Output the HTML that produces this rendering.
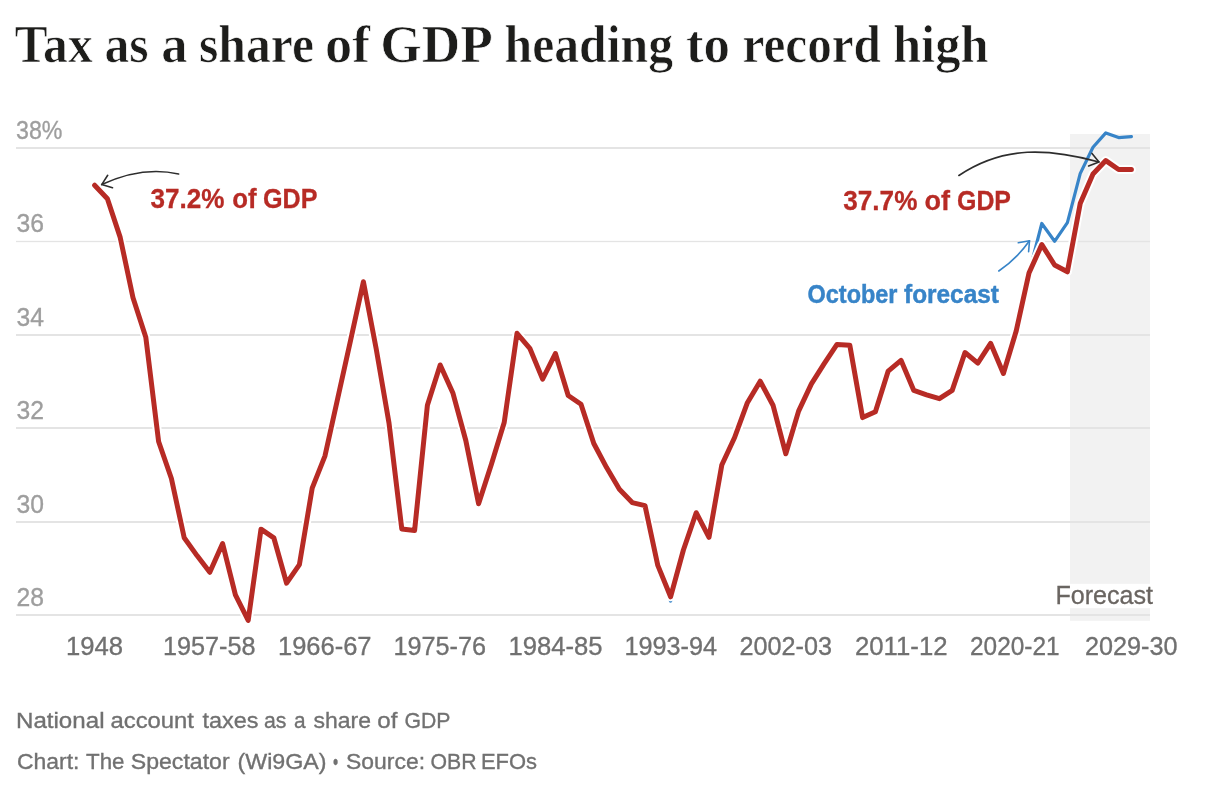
<!DOCTYPE html>
<html lang="en"><head><meta charset="utf-8"><title>Tax as a share of GDP heading to record high</title>
<style>
html,body{margin:0;padding:0;background:#fff;}
body{width:1216px;height:810px;overflow:hidden;}
svg{display:block;}
svg text{font-family:"Liberation Sans",sans-serif;}
svg text.serif{font-family:"Liberation Serif",serif;}
</style></head><body>
<svg width="1216" height="810" viewBox="0 0 1216 810" role="img" aria-label="Tax as a share of GDP heading to record high">
<rect width="1216" height="810" fill="#ffffff"/>
<g id="title">
<text y="62.3" font-size="52" font-weight="700" class="serif" stroke-linejoin="round" fill="#1d1d1b" stroke="#ffffff" stroke-width="0.70"><tspan x="14.57" textLength="78.22" lengthAdjust="spacingAndGlyphs">Tax</tspan> <tspan x="104.39" textLength="44.21" lengthAdjust="spacingAndGlyphs">as</tspan> <tspan x="161.30" textLength="26.34" lengthAdjust="spacingAndGlyphs">a</tspan> <tspan x="198.95" textLength="115.07" lengthAdjust="spacingAndGlyphs">share</tspan> <tspan x="324.91" textLength="45.27" lengthAdjust="spacingAndGlyphs">of</tspan> <tspan x="380.36" textLength="109.50" lengthAdjust="spacingAndGlyphs">GDP</tspan> <tspan x="504.50" textLength="168.51" lengthAdjust="spacingAndGlyphs">heading</tspan> <tspan x="685.98" textLength="44.12" lengthAdjust="spacingAndGlyphs">to</tspan> <tspan x="742.48" textLength="138.52" lengthAdjust="spacingAndGlyphs">record</tspan> <tspan x="892.99" textLength="95.54" lengthAdjust="spacingAndGlyphs">high</tspan></text>
</g>
<rect x="1070" y="134" width="80" height="486.8" fill="#f2f2f2"/>
<rect x="16" y="147" width="1134" height="2" fill="#e4e4e4"/>
<rect x="16" y="241" width="1134" height="1" fill="#e4e4e4"/>
<rect x="16" y="334" width="1134" height="2" fill="#e4e4e4"/>
<rect x="16" y="427" width="1134" height="2" fill="#e4e4e4"/>
<rect x="16" y="521" width="1134" height="2" fill="#e4e4e4"/>
<rect x="16" y="614" width="1134" height="2" fill="#e4e4e4"/>
<rect x="16" y="240.5" width="1134" height="2" fill="#e4e4e4" fill-opacity="0.25"/>
<g id="labels">
<text y="138.9" font-size="26" fill="#9e9e9e" stroke="#9e9e9e" stroke-width="0.35"><tspan x="16.01" textLength="46.48" lengthAdjust="spacingAndGlyphs">38%</tspan></text>
<text y="232.3" font-size="26" fill="#9e9e9e" stroke="#9e9e9e" stroke-width="0.35"><tspan x="16.52" textLength="27.48" lengthAdjust="spacingAndGlyphs">36</tspan></text>
<text y="325.7" font-size="26" fill="#9e9e9e" stroke="#9e9e9e" stroke-width="0.35"><tspan x="16.52" textLength="27.48" lengthAdjust="spacingAndGlyphs">34</tspan></text>
<text y="419.1" font-size="26" fill="#9e9e9e" stroke="#9e9e9e" stroke-width="0.35"><tspan x="16.52" textLength="27.48" lengthAdjust="spacingAndGlyphs">32</tspan></text>
<text y="512.5" font-size="26" fill="#9e9e9e" stroke="#9e9e9e" stroke-width="0.35"><tspan x="16.52" textLength="27.48" lengthAdjust="spacingAndGlyphs">30</tspan></text>
<text y="605.9" font-size="26" fill="#9e9e9e" stroke="#9e9e9e" stroke-width="0.35"><tspan x="16.52" textLength="27.48" lengthAdjust="spacingAndGlyphs">28</tspan></text>
<text y="655.0" font-size="26" fill="#707070" stroke="#707070" stroke-width="0.35"><tspan x="65.99" textLength="57.03" lengthAdjust="spacingAndGlyphs">1948</tspan></text>
<text y="655.0" font-size="26" fill="#707070" stroke="#707070" stroke-width="0.35"><tspan x="163.00" textLength="92.50" lengthAdjust="spacingAndGlyphs">1957-58</tspan></text>
<text y="655.0" font-size="26" fill="#707070" stroke="#707070" stroke-width="0.35"><tspan x="277.98" textLength="93.54" lengthAdjust="spacingAndGlyphs">1966-67</tspan></text>
<text y="655.0" font-size="26" fill="#707070" stroke="#707070" stroke-width="0.35"><tspan x="393.50" textLength="92.51" lengthAdjust="spacingAndGlyphs">1975-76</tspan></text>
<text y="655.0" font-size="26" fill="#707070" stroke="#707070" stroke-width="0.35"><tspan x="508.48" textLength="94.02" lengthAdjust="spacingAndGlyphs">1984-85</tspan></text>
<text y="655.0" font-size="26" fill="#707070" stroke="#707070" stroke-width="0.35"><tspan x="624.50" textLength="92.50" lengthAdjust="spacingAndGlyphs">1993-94</tspan></text>
<text y="655.0" font-size="26" fill="#707070" stroke="#707070" stroke-width="0.35"><tspan x="739.51" textLength="92.49" lengthAdjust="spacingAndGlyphs">2002-03</tspan></text>
<text y="655.0" font-size="26" fill="#707070" stroke="#707070" stroke-width="0.35"><tspan x="855.00" textLength="92.52" lengthAdjust="spacingAndGlyphs">2011-12</tspan></text>
<text y="655.0" font-size="26" fill="#707070" stroke="#707070" stroke-width="0.35"><tspan x="970.01" textLength="89.52" lengthAdjust="spacingAndGlyphs">2020-21</tspan></text>
<text y="655.0" font-size="26" fill="#707070" stroke="#707070" stroke-width="0.35"><tspan x="1085.00" textLength="92.49" lengthAdjust="spacingAndGlyphs">2029-30</tspan></text>
</g>
<polyline fill="none" stroke="#3784c8" stroke-width="3.2" stroke-linejoin="round" stroke-linecap="round" points="94.6,185.2 107.4,198.8 120.2,237.4 133.0,297.7 145.8,337.3 158.6,441.5 171.4,478.5 184.2,537.8 197.0,555.6 209.8,572.3 222.6,543.6 235.4,594.8 248.2,620.4 261.0,529.2 273.8,537.8 286.6,583.2 299.4,564.6 312.2,488.2 325.0,455.8 337.8,398.0 350.6,340.2 363.4,281.7 376.2,348.9 389.0,423.0 401.8,529.0 414.6,530.5 427.4,405.2 440.2,365.0 453.0,393.3 465.8,440.5 478.6,503.8 491.4,464.2 504.2,422.5 517.0,333.3 529.8,348.3 542.6,379.1 555.4,353.6 568.2,395.5 581.0,404.3 593.8,443.5 606.6,467.6 619.4,489.3 632.2,502.6 645.0,505.6 657.8,565.4 670.6,601.1 683.4,550.0 696.2,512.7 709.0,537.4 721.8,465.0 734.6,437.5 747.4,402.7 760.2,381.2 773.0,405.2 785.8,453.8 798.6,411.1 811.4,383.9 824.2,363.7 837.0,344.4 849.8,345.3 862.6,417.6 875.4,411.7 888.2,371.1 901.0,360.3 913.8,390.4 926.6,394.8 939.4,398.7 952.2,390.4 965.0,352.5 977.8,363.1 990.6,343.3 1003.4,373.5 1016.2,331.0 1029.0,273.0 1041.8,223.5 1054.6,241.3 1067.4,222.6 1080.2,173.6 1093.0,147.3 1105.8,132.9 1118.6,137.6 1131.4,136.6"/>
<polyline fill="none" stroke="#ffffff" stroke-opacity="1" stroke-width="9" stroke-linejoin="round" stroke-linecap="round" points="94.6,185.2 107.4,198.8 120.2,237.4 133.0,297.7 145.8,337.3 158.6,441.5 171.4,478.5 184.2,537.8 197.0,555.6 209.8,572.3 222.6,543.6 235.4,594.8 248.2,620.4 261.0,529.2 273.8,537.8 286.6,583.2 299.4,564.6 312.2,488.2 325.0,455.8 337.8,398.0 350.6,340.2 363.4,281.7 376.2,348.9 389.0,423.0 401.8,529.0 414.6,530.5 427.4,405.2 440.2,365.0 453.0,393.3 465.8,440.5 478.6,503.8 491.4,464.2 504.2,422.5 517.0,333.3 529.8,348.3 542.6,379.1 555.4,353.6 568.2,395.5 581.0,404.3 593.8,443.5 606.6,467.6 619.4,489.3 632.2,502.6 645.0,505.6 657.8,565.4 670.6,596.8 683.4,550.0 696.2,512.7 709.0,537.4 721.8,465.0 734.6,437.5 747.4,402.7 760.2,381.2 773.0,405.2 785.8,453.8 798.6,411.1 811.4,383.9 824.2,363.7 837.0,344.4 849.8,345.3 862.6,417.6 875.4,411.7 888.2,371.1 901.0,360.3 913.8,390.4 926.6,394.8 939.4,398.7 952.2,390.4 965.0,352.5 977.8,363.1 990.6,343.3 1003.4,373.5 1016.2,331.0 1029.0,273.0 1041.8,244.6 1054.6,265.0 1067.4,271.8 1080.2,203.6 1093.0,174.0 1105.8,160.6 1118.6,169.5 1131.4,169.5"/>
<polyline fill="none" stroke="#b72b25" stroke-width="5.0" stroke-linejoin="round" stroke-linecap="round" points="94.6,185.2 107.4,198.8 120.2,237.4 133.0,297.7 145.8,337.3 158.6,441.5 171.4,478.5 184.2,537.8 197.0,555.6 209.8,572.3 222.6,543.6 235.4,594.8 248.2,620.4 261.0,529.2 273.8,537.8 286.6,583.2 299.4,564.6 312.2,488.2 325.0,455.8 337.8,398.0 350.6,340.2 363.4,281.7 376.2,348.9 389.0,423.0 401.8,529.0 414.6,530.5 427.4,405.2 440.2,365.0 453.0,393.3 465.8,440.5 478.6,503.8 491.4,464.2 504.2,422.5 517.0,333.3 529.8,348.3 542.6,379.1 555.4,353.6 568.2,395.5 581.0,404.3 593.8,443.5 606.6,467.6 619.4,489.3 632.2,502.6 645.0,505.6 657.8,565.4 670.6,596.8 683.4,550.0 696.2,512.7 709.0,537.4 721.8,465.0 734.6,437.5 747.4,402.7 760.2,381.2 773.0,405.2 785.8,453.8 798.6,411.1 811.4,383.9 824.2,363.7 837.0,344.4 849.8,345.3 862.6,417.6 875.4,411.7 888.2,371.1 901.0,360.3 913.8,390.4 926.6,394.8 939.4,398.7 952.2,390.4 965.0,352.5 977.8,363.1 990.6,343.3 1003.4,373.5 1016.2,331.0 1029.0,273.0 1041.8,244.6 1054.6,265.0 1067.4,271.8 1080.2,203.6 1093.0,174.0 1105.8,160.6 1118.6,169.5 1131.4,169.5"/>
<rect x="1055" y="583.8" width="100" height="24.4" fill="#ffffff" fill-opacity="0.94"/>
<g id="annotations">
<text y="207.7" font-size="28" font-weight="700" fill="#b72b25" stroke="#b72b25" stroke-width="0.30"><tspan x="150.50" textLength="73.98" lengthAdjust="spacingAndGlyphs">37.2%</tspan> <tspan x="232.29" textLength="24.32" lengthAdjust="spacingAndGlyphs">of</tspan> <tspan x="263.01" textLength="54.48" lengthAdjust="spacingAndGlyphs">GDP</tspan></text>
<text y="209.7" font-size="28" font-weight="700" fill="#b72b25" stroke="#b72b25" stroke-width="0.30"><tspan x="843.32" textLength="74.05" lengthAdjust="spacingAndGlyphs">37.7%</tspan> <tspan x="924.52" textLength="25.50" lengthAdjust="spacingAndGlyphs">of</tspan> <tspan x="957.00" textLength="53.99" lengthAdjust="spacingAndGlyphs">GDP</tspan></text>
<text y="302.6" font-size="26" font-weight="700" fill="#3784c8" stroke="#3784c8" stroke-width="0.45"><tspan x="807.50" textLength="90.00" lengthAdjust="spacingAndGlyphs">October</tspan> <tspan x="904.01" textLength="94.99" lengthAdjust="spacingAndGlyphs">forecast</tspan></text>
<text y="603.8" font-size="26" fill="#6a6561" stroke="#6a6561" stroke-width="0.30"><tspan x="1055.38" textLength="97.72" lengthAdjust="spacingAndGlyphs">Forecast</tspan></text>
</g>
<g fill="none" stroke="#2d2d2d" stroke-width="1.6" stroke-linecap="round" stroke-linejoin="round">
<path d="M178.6,174 C152.5,168.1 125.5,173.5 101.7,184.6"/>
<path d="M107.7,175.3 L101.7,184.6 L112.5,187.7"/>
<path d="M958.9,175.5 C1004.1,145.1 1049.3,148.6 1099,161.9"/>
<path d="M1092,153.4 L1099,161.9 L1088.6,166"/>
</g>
<g fill="none" stroke="#3784c8" stroke-width="1.6" stroke-linecap="round" stroke-linejoin="round">
<path d="M998.8,271 Q1016.9,258.6 1029.5,240.8"/>
<path d="M1018.3,242.8 L1029.5,240.8 L1028.6,251.7"/>
</g>
<g id="footer">
<text y="727.9" font-size="22.6" fill="#717171" stroke="#717171" stroke-width="0.35"><tspan x="15.98" textLength="88.53" lengthAdjust="spacingAndGlyphs">National</tspan> <tspan x="110.51" textLength="83.50" lengthAdjust="spacingAndGlyphs">account</tspan> <tspan x="202.49" textLength="55.99" lengthAdjust="spacingAndGlyphs">taxes</tspan> <tspan x="264.03" textLength="22.46" lengthAdjust="spacingAndGlyphs">as</tspan> <tspan x="294.12" textLength="11.60" lengthAdjust="spacingAndGlyphs">a</tspan> <tspan x="313.48" textLength="57.51" lengthAdjust="spacingAndGlyphs">share</tspan> <tspan x="377.28" textLength="20.15" lengthAdjust="spacingAndGlyphs">of</tspan> <tspan x="404.50" textLength="45.99" lengthAdjust="spacingAndGlyphs">GDP</tspan></text>
<text y="768.5" font-size="22.6" fill="#717171" stroke="#717171" stroke-width="0.35"><tspan x="16.99" textLength="62.51" lengthAdjust="spacingAndGlyphs">Chart:</tspan> <tspan x="86.00" textLength="38.49" lengthAdjust="spacingAndGlyphs">The</tspan> <tspan x="130.74" textLength="98.88" lengthAdjust="spacingAndGlyphs">Spectator</tspan> <tspan x="237.47" textLength="89.07" lengthAdjust="spacingAndGlyphs">(Wi9GA)</tspan> <tspan x="332.94" textLength="5.15" lengthAdjust="spacingAndGlyphs">•</tspan> <tspan x="345.99" textLength="79.04" lengthAdjust="spacingAndGlyphs">Source:</tspan> <tspan x="430.48" textLength="46.03" lengthAdjust="spacingAndGlyphs">OBR</tspan> <tspan x="480.98" textLength="56.05" lengthAdjust="spacingAndGlyphs">EFOs</tspan></text>
</g>
</svg>
</body></html>
